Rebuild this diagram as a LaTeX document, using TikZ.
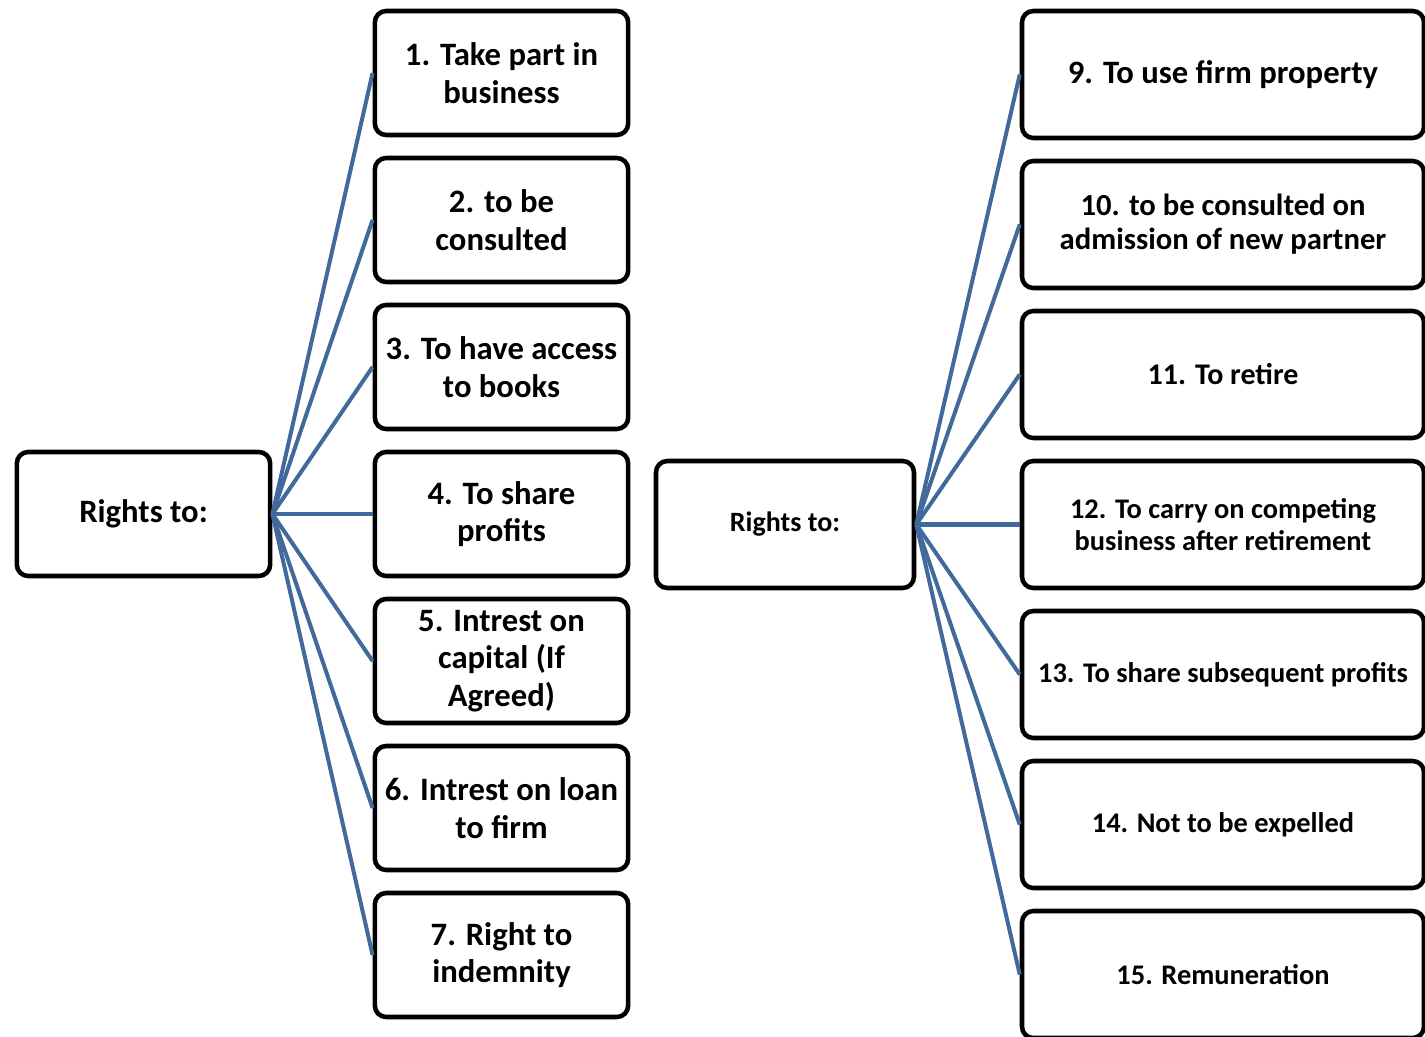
\documentclass[tikz,border=0pt]{standalone}
\usepackage{fontspec}
\setmainfont{Carlito}
\usepackage{tikz}
\usetikzlibrary{
	positioning,
	arrows.meta
}
\definecolor{linkblue}{RGB}{65,105,155}

\tikzset{
	box/.style={draw,line width=3.4pt,rounded corners=8.5pt,align=center,inner sep=0pt,font=\bfseries},
	lbox/.style={box,minimum width=190pt,minimum height=93pt,font=\bfseries\fontsize{24.5}{28}\selectfont},
	rbox/.style={box,minimum width=301.5pt,minimum height=95.25pt},
	link/.style={draw=linkblue,line width=3pt}
}

\begin{document}
\begin{tikzpicture}[x=0.75pt,y=-0.75pt]
	\useasboundingbox (0,0) rectangle (1425,1037);

	% left tree
	\draw[node distance=110.25pt]
		node [lbox]              (lroot) at (143.5,514) {Rights to:}
		node [lbox]              (l1) at (501.5,73) {1. Take part in\\business}
		node [lbox,below of=l1]  (l2) {2. to be\\consulted}
		node [lbox,below of=l2]  (l3) {3. To have access\\to books}
		node [lbox,below of=l3]  (l4) {4. To share\\profits}
		node [lbox,below of=l4]  (l5) {5. Intrest on\\capital (If\\Agreed)}
		node [lbox,below of=l5]  (l6) {6. Intrest on loan\\to firm}
		node [lbox,below of=l6]  (l7) {7. Right to\\indemnity}

		(lroot.east) edge [link] (l1.west)
		(lroot.east) edge [link] (l2.west)
		(lroot.east) edge [link] (l3.west)
		(lroot.east) edge [link] (l4.west)
		(lroot.east) edge [link] (l5.west)
		(lroot.east) edge [link] (l6.west)
		(lroot.east) edge [link] (l7.west)
	;

	% right tree
	\draw[node distance=112.5pt]
		node [box,minimum width=193.5pt,minimum height=95.25pt,font=\bfseries\fontsize{21}{25}\selectfont]
			(rroot) at (785,524.5) {Rights to:}
		node [rbox,font=\bfseries\fontsize{24.5}{28}\selectfont]
			(r9) at (1223,74.5) {9. To use firm property}
		node [rbox,below of=r9,font=\bfseries\fontsize{23}{25.5}\selectfont]
			(r10) {10. to be consulted on\\admission of new partner}
		node [rbox,below of=r10,font=\bfseries\fontsize{22.5}{26}\selectfont]
			(r11) {11. To retire}
		node [rbox,below of=r11,font=\bfseries\fontsize{21.3}{24}\selectfont]
			(r12) {12. To carry on competing\\business after retirement}
		node [rbox,below of=r12,font=\bfseries\fontsize{21.3}{24}\selectfont]
			(r13) {13. To share subsequent profits}
		node [rbox,below of=r13,font=\bfseries\fontsize{21.3}{24}\selectfont]
			(r14) {14. Not to be expelled}
		node [rbox,below of=r14,font=\bfseries\fontsize{21.3}{24}\selectfont]
			(r15) {15. Remuneration}

		(rroot.east) edge [link] (r9.west)
		(rroot.east) edge [link] (r10.west)
		(rroot.east) edge [link] (r11.west)
		(rroot.east) edge [link] (r12.west)
		(rroot.east) edge [link] (r13.west)
		(rroot.east) edge [link] (r14.west)
		(rroot.east) edge [link] (r15.west)
	;
\end{tikzpicture}
\end{document}
